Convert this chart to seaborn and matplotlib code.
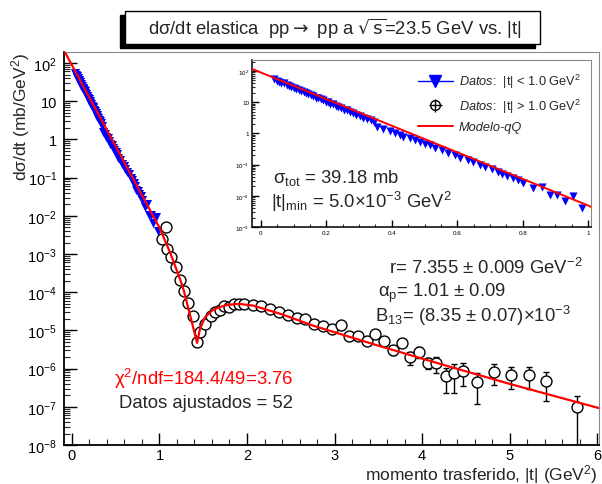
import numpy as np
import pandas as pd
import matplotlib
matplotlib.use("Agg")
import matplotlib.pyplot as plt
import seaborn as sns
from matplotlib.lines import Line2D
from matplotlib.patches import Rectangle
from matplotlib.ticker import LogLocator, MultipleLocator, NullFormatter, FuncFormatter

# ---------------- data ----------------
# |t| < 1.0 GeV^2 (blue triangles)
t_lo = [0.040, 0.048, 0.055, 0.062, 0.070, 0.078, 0.085, 0.092, 0.100, 0.108,
        0.115, 0.122, 0.130, 0.138, 0.145, 0.152, 0.160, 0.168, 0.175, 0.182,
        0.190, 0.198, 0.205, 0.212, 0.220, 0.228, 0.236, 0.245, 0.254, 0.263,
        0.272, 0.282, 0.292, 0.302, 0.313, 0.324, 0.335, 0.345, 0.354, 0.374,
        0.394, 0.410, 0.425, 0.435, 0.456, 0.471, 0.486, 0.502, 0.517, 0.532,
        0.553, 0.573, 0.593, 0.609, 0.634, 0.649, 0.670, 0.685, 0.705, 0.726,
        0.736, 0.751, 0.772, 0.787, 0.802, 0.833, 0.858, 0.884, 0.904, 0.930,
        0.955, 0.981]
y_lo = [55.0, 47.9, 45.7, 41.7, 39.8, 35.5, 33.9, 30.9, 28.8, 25.7,
        25.1, 22.4, 21.4, 19.1, 18.6, 16.6, 15.8, 13.8, 13.5, 12.3,
        11.5, 10.2, 10.0, 8.9, 8.5, 7.4, 7.1, 6.5, 5.75, 5.5,
        4.9, 4.47, 3.8, 3.7, 3.16, 2.95, 2.63, 2.29, 1.61, 1.42,
        1.17, 1.06, 0.916, 0.773, 0.718, 0.604, 0.536, 0.473, 0.419, 0.328,
        0.290, 0.228, 0.201, 0.166, 0.139, 0.124, 0.0964, 0.0857, 0.0719, 0.0594,
        0.0488, 0.0443, 0.0383, 0.0321, 0.0252, 0.0175, 0.0198, 0.0107, 0.0107, 0.00658,
        0.00951, 0.00403]

# |t| > 1.0 GeV^2 (open circles)
t_hi = [1.030, 1.071, 1.086, 1.135, 1.186, 1.237, 1.282, 1.329, 1.383, 1.434,
        1.466, 1.520, 1.585, 1.640, 1.691, 1.741, 1.798, 1.855, 1.912, 1.969,
        2.065, 2.160, 2.263, 2.366, 2.465, 2.566, 2.666, 2.768, 2.865, 2.968,
        3.071, 3.169, 3.272, 3.368, 3.466, 3.566, 3.672, 3.768, 3.863, 3.966,
        4.065, 4.163, 4.271, 4.366, 4.469, 4.621, 4.823, 5.017, 5.215, 5.417,
        5.771]
y_hi = [2.47e-3, 5.0e-3, 1.39e-3, 8.3e-4, 4.6e-4, 2.08e-4, 1.07e-4, 5.15e-5, 2.43e-5, 5.1e-6,
        9.2e-6, 1.43e-5, 2.41e-5, 3.07e-5, 3.52e-5, 4.44e-5, 4.03e-5, 4.9e-5, 5.0e-5, 4.8e-5,
        4.6e-5, 4.4e-5, 3.6e-5, 3.1e-5, 2.53e-5, 2.07e-5, 1.99e-5, 1.47e-5, 1.28e-5, 1.09e-5,
        1.38e-5, 7.0e-6, 7.3e-6, 5.4e-6, 8.05e-6, 5.4e-6, 3.13e-6, 4.6e-6, 1.98e-6, 2.77e-6,
        1.40e-6, 1.43e-6, 6.4e-7, 7.7e-7, 8.8e-7, 4.5e-7, 8.3e-7, 6.9e-7, 6.9e-7, 4.8e-7,
        1.0e-7]
rel_err_hi = [0.10] * 36 + [0.27, 0.15, 0.37, 0.30, 0.32, 0.45, 0.65, 0.70, 0.61,
                            0.74, 0.55, 0.58, 0.58, 0.70, 0.95]

# Modelo-qQ curve
t_model = [-0.09, 1.00, 1.12, 1.234, 1.28, 1.43, 1.463, 1.52, 1.577, 1.615,
           1.69, 1.768, 1.85, 1.92, 2.07, 2.40, 2.76, 3.50, 4.30, 5.00, 6.03]
y_model = [214.0, 4.9e-3, 1.12e-3, 2.24e-4, 1.07e-4, 4.7e-6, 1.1e-5, 2.19e-5, 2.95e-5, 3.48e-5,
           4.07e-5, 4.62e-5, 4.84e-5, 4.9e-5, 4.47e-5, 2.63e-5, 1.32e-5, 3.98e-6, 1.15e-6, 3.98e-7,
           9.1e-8]

df_lo = pd.DataFrame({"t": t_lo, "y": y_lo})
df_hi = pd.DataFrame({"t": t_hi, "y": y_hi, "err": np.array(y_hi) * np.array(rel_err_hi)})
df_mod = pd.DataFrame({"t": t_model, "y": y_model})

# ---------------- style ----------------
sns.set_style("ticks")
plt.rcParams["font.family"] = ["Liberation Sans", "DejaVu Sans"]
plt.rcParams["mathtext.fontset"] = "custom"
plt.rcParams["mathtext.rm"] = "Liberation Sans"
plt.rcParams["mathtext.it"] = "Liberation Sans:italic"
plt.rcParams["mathtext.bf"] = "Liberation Sans:bold"
plt.rcParams["mathtext.sf"] = "Liberation Sans"

W, H = 602, 485
fig = plt.figure(figsize=(W / 100, H / 100), dpi=100)
fig.patch.set_facecolor("white")


def fx(px):
    return px / W


def fy(py):
    return 1 - py / H


def logfmt(v, pos):
    e = int(round(np.log10(v)))
    if e == 0:
        return "1"
    if e == 1:
        return "10"
    return r"$10^{%d}$" % e


BLUE = "#0000ff"
RED = "#ff0000"
FS = 13.3


def style_axes(a, maj_len, min_len, lab_size, pad):
    a.set_facecolor("white")
    for s in ["left", "bottom"]:
        a.spines[s].set_color("black")
        a.spines[s].set_linewidth(1.3)
    for s in ["top", "right"]:
        a.spines[s].set_color("#888888")
        a.spines[s].set_linewidth(0.8)
    a.tick_params(which="major", direction="in", length=maj_len, width=1.0,
                  labelsize=lab_size, pad=pad, top=False, right=False, colors="black")
    a.tick_params(which="minor", direction="in", length=min_len, width=0.8,
                  top=False, right=False)
    a.grid(False)


# ---------------- main axes ----------------
ax = fig.add_axes([fx(64), fy(446), fx(599) - fx(64), fy(53) - fy(446)])
ax.set_yscale("log")

sns.scatterplot(data=df_lo, x="t", y="y", ax=ax, marker="v", s=42, color=BLUE,
                edgecolor=BLUE, linewidth=0, zorder=3, legend=False)
ax.errorbar(df_hi["t"], df_hi["y"], yerr=df_hi["err"], fmt="none", ecolor="black",
            elinewidth=1.0, capsize=2, capthick=1.0, zorder=3)
sns.scatterplot(data=df_hi, x="t", y="y", ax=ax, marker="o", s=62, facecolor="white",
                edgecolor="black", linewidth=1.0, zorder=4, legend=False)
sns.lineplot(data=df_mod, x="t", y="y", ax=ax, color=RED, linewidth=1.6, zorder=5,
             estimator=None, sort=False)

ax.set_xlim(-0.09, 6.02)
ax.set_ylim(1e-8, 10 ** 2.288)
ax.xaxis.set_major_locator(MultipleLocator(1))
ax.xaxis.set_minor_locator(MultipleLocator(0.2))
ax.yaxis.set_major_locator(LogLocator(base=10, numticks=20))
ax.yaxis.set_minor_locator(LogLocator(base=10, subs=np.arange(2, 10), numticks=20))
ax.yaxis.set_major_formatter(FuncFormatter(logfmt))
ax.yaxis.set_minor_formatter(NullFormatter())
style_axes(ax, 9, 4.5, 10.5, 5)
ax.tick_params(axis="x", which="major", pad=2.5)
ax.set_xlabel("")
ax.set_ylabel("")
ax.xaxis.label.set_visible(False)
ax.yaxis.label.set_visible(False)

fig.text(fx(21), fy(53), "dσ/dt (mb/GeV$^{2}$)", rotation=90, ha="center",
         va="top", fontsize=12.5)
fig.text(fx(598), fy(475), "momento trasferido, |t| (GeV$^{2}$)", ha="right",
         va="center", fontsize=12.5)

# annotations
fig.text(fx(389), fy(268), "r= 7.355 ± 0.009 GeV$^{-2}$", ha="left", va="center",
         fontsize=FS)
fig.text(fx(378), fy(293), "α$_{\\mathrm{p}}$= 1.01 ± 0.09", ha="left",
         va="center", fontsize=FS)
fig.text(fx(375), fy(316), "B$_{13}$= (8.35 ± 0.07)×10$^{-3}$", ha="left",
         va="center", fontsize=FS)
fig.text(fx(293), fy(379), "χ$^{2}$/ndf=184.4/49=3.76", ha="right", va="center",
         fontsize=FS, color=RED)
fig.text(fx(293), fy(403), "Datos ajustados = 52", ha="right", va="center",
         fontsize=FS)

# ---------------- inset ----------------
ins = fig.add_axes([fx(252), fy(228), fx(591) - fx(252), fy(61) - fy(228)])
ins.set_yscale("log")
sns.scatterplot(data=df_lo, x="t", y="y", ax=ins, marker="v", s=34, color=BLUE,
                edgecolor=BLUE, linewidth=0, zorder=3, legend=False)
sns.lineplot(data=df_mod, x="t", y="y", ax=ins, color=RED, linewidth=1.4, zorder=5,
             estimator=None, sort=False)
ins.set_xlim(-0.0275, 1.009)
ins.set_ylim(1e-3, 10 ** 2.35)
ins.xaxis.set_major_locator(MultipleLocator(0.2))
ins.xaxis.set_minor_locator(MultipleLocator(0.05))
ins.yaxis.set_major_locator(LogLocator(base=10, numticks=20))
ins.yaxis.set_minor_locator(LogLocator(base=10, subs=np.arange(2, 10), numticks=20))
ins.yaxis.set_major_formatter(FuncFormatter(logfmt))
ins.yaxis.set_minor_formatter(NullFormatter())
ins.xaxis.set_major_formatter(FuncFormatter(lambda v, p: "%g" % round(v, 2)))
style_axes(ins, 5, 2.5, 4.5, 2)
for s in ["left", "bottom"]:
    ins.spines[s].set_linewidth(1.1)
ins.set_xlabel("")
ins.set_ylabel("")
ins.xaxis.label.set_visible(False)
ins.yaxis.label.set_visible(False)

fig.text(fx(273), fy(178), "σ$_{\\mathrm{tot}}$ = 39.18 mb", ha="left",
         va="center", fontsize=FS)
fig.text(fx(271), fy(202), "|t|$_{\\mathrm{min}}$ = 5.0×10$^{-3}$ GeV$^{2}$",
         ha="left", va="center", fontsize=FS)

h1 = Line2D([], [], color=BLUE, marker="v", markersize=8, linestyle="-", linewidth=1.0)
h2 = ins.errorbar([], [], xerr=[], yerr=[], fmt="o", color="black", mfc="none",
                  markersize=7, elinewidth=1.0, capsize=0)
h3 = Line2D([], [], color=RED, linewidth=1.4)
leg = fig.legend([h1, h2, h3],
                 [r"$\mathit{Datos}$:  |t| < 1.0 GeV$^{2}$",
                  r"$\mathit{Datos}$:  |t| > 1.0 GeV$^{2}$",
                  "Modelo-qQ"],
                 loc="upper left", bbox_to_anchor=(fx(418), fy(73)), frameon=False,
                 fontsize=9.2, handlelength=2.7, handletextpad=0.5, labelspacing=0.5,
                 borderaxespad=0, borderpad=0)
leg.get_texts()[2].set_fontstyle("italic")

# ---------------- title box ----------------
bx0, bx1, by0, by1 = 125, 540, 12, 45
fig.patches.append(Rectangle((fx(bx0 - 5), fy(by1 + 4)), fx(bx1 - bx0), fy(by0) - fy(by1),
                             transform=fig.transFigure, facecolor="black",
                             edgecolor="black", zorder=1))
fig.patches.append(Rectangle((fx(bx0), fy(by1)), fx(bx1 - bx0), fy(by0) - fy(by1),
                             transform=fig.transFigure, facecolor="white",
                             edgecolor="black", linewidth=1.0, zorder=2))
fig.text(fx(335), fy(29),
         "dσ/dt elastica  pp$\\rightarrow$ pp a $\\sqrt{\\mathrm{s}}$=23.5 GeV vs. |t|",
         ha="center", va="center", fontsize=13.3, zorder=3,
         math_fontfamily="dejavusans")

fig.savefig("out.png", dpi=100, facecolor="white")
